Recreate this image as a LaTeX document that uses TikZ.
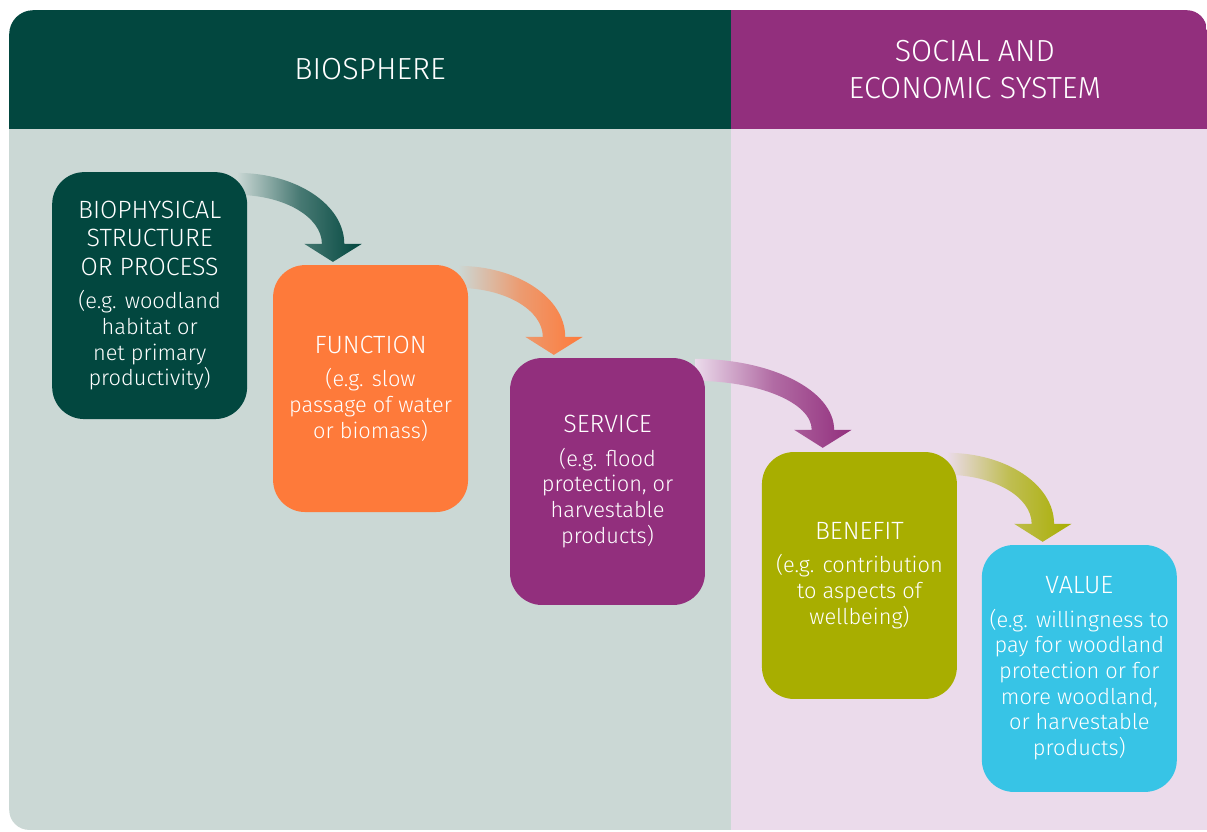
\documentclass[tikz,border=0pt]{standalone}
\usepackage{fontspec}
\setmainfont{Fira Sans}[UprightFont=* Light]
\usetikzlibrary{arrows.meta}
\definecolor{biogreen}{RGB}{2,71,63}
\definecolor{funorange}{RGB}{254,122,58}
\definecolor{serpurple}{RGB}{146,47,125}
\definecolor{benolive}{RGB}{168,174,0}
\definecolor{valcyan}{RGB}{55,196,230}
\definecolor{bgleft}{RGB}{203,216,213}
\definecolor{bgright}{RGB}{235,219,235}
\newcommand{\stagehead}{\fontsize{25}{28.5}\selectfont}
\newcommand{\stagebody}{\fontsize{21.8}{25.7}\selectfont}
\pgfdeclarelayer{panel}
\pgfdeclarelayer{flows}
\pgfsetlayers{panel,flows,main}

\begin{document}
\begin{tikzpicture}[scale=1.000000,x=1pt,y=1pt,
  header/.style={text=white,align=center,font=\fontsize{30.5}{37}\selectfont},
  stage/.style={rounded corners=32pt,minimum width=195pt,minimum height=247pt,inner sep=0pt,align=center,text=white,font=\stagebody},
  flow/.style 2 args={left color=#1,right color=#2,middle color=#2!65!#1}]
% Drawing panels
\begin{pgfonlayer}{panel}
\filldraw[color=white] (0.000000,0.000000) rectangle (1207.000000,831.000000);
\begin{scope}
\clip (9.000000,21.000000) -- (9.000000,797.000000) arc[start angle=180,end angle=90,radius=24] -- (1187.000000,821.000000) arc[start angle=90,end angle=0,radius=20] -- (1207.000000,1.000000) -- (29.000000,1.000000) arc[start angle=270,end angle=180,radius=20] -- cycle;
\fill[color=bgleft] (0.000000,0.000000) rectangle (731.000000,702.000000);
\fill[color=bgright] (731.000000,0.000000) rectangle (1207.000000,702.000000);
\fill[color=biogreen] (0.000000,702.000000) rectangle (731.000000,831.000000);
\fill[color=serpurple] (731.000000,702.000000) rectangle (1207.000000,831.000000);
\end{scope}
\end{pgfonlayer}
\node[header] (biosphere) at (370.000000,762.000000) {BIOSPHERE};
\node[header] (socioeco) at (975.000000,762.000000) {SOCIAL AND\\ECONOMIC SYSTEM};
% Done with panels; drawing stages
% Stage 1: biophysical structure or process
\node[stage,fill=biogreen] (biophys) at (149.500000,535.500000) {{\stagehead BIOPHYSICAL}\\[3pt]{\stagehead STRUCTURE}\\[3pt]{\stagehead OR PROCESS}\\[7.5pt](e.g. woodland\\habitat or\\net primary\\productivity)};
% Stage 2: function
\node[stage,fill=funorange] (function) at (370.500000,442.500000) {{\stagehead FUNCTION}\\[7.5pt](e.g. slow\\passage of water\\or biomass)};
% Stage 3: service
\node[stage,fill=serpurple] (service) at (607.500000,349.500000) {{\stagehead SERVICE}\\[7.5pt](e.g. flood\\protection, or\\harvestable\\products)};
% Stage 4: benefit
\node[stage,fill=benolive] (benefit) at (859.500000,255.500000) {{\stagehead BENEFIT}\\[7.5pt](e.g. contribution\\to aspects of\\wellbeing)};
% Stage 5: value
\node[stage,fill=valcyan] (value) at (1079.500000,162.500000) {{\stagehead VALUE}\\[7.5pt](e.g. willingness to\\pay for woodland\\protection or for\\more woodland,\\or harvestable\\products)};
% Done with stages; drawing arrows
\begin{pgfonlayer}{flows}
% Arrow 1: biophys -> function
\shade[flow={bgleft}{biogreen}] ([shift={(-10,-1)}]biophys.north east) arc[start angle=90,end angle=0,x radius=107,y radius=71] -- ++(17.5,0) -- ([shift={(60,3)}]function.north west) -- ++(-28.5,18) -- ++(17.5,0) arc[start angle=0,end angle=90,x radius=85,y radius=49] -- cycle;
% Arrow 2: function -> service
\shade[flow={bgleft}{funorange}] ([shift={(-10,-1)}]function.north east) arc[start angle=90,end angle=0,x radius=107,y radius=71] -- ++(17.5,0) -- ([shift={(44,3)}]service.north west) -- ++(-28.5,18) -- ++(17.5,0) arc[start angle=0,end angle=90,x radius=85,y radius=49] -- cycle;
% Arrow 3: service -> benefit
\shade[flow={bgright}{serpurple}] ([shift={(-10,-1)}]service.north east) arc[start angle=90,end angle=0,x radius=139,y radius=71] -- ++(17.5,0) -- ([shift={(61,4)}]benefit.north west) -- ++(-28.5,18) -- ++(17.5,0) arc[start angle=0,end angle=90,x radius=117,y radius=49] -- cycle;
% Arrow 4: benefit -> value
\shade[flow={bgright}{benolive}] ([shift={(-10,-1)}]benefit.north east) arc[start angle=90,end angle=0,x radius=107,y radius=71] -- ++(17.5,0) -- ([shift={(61,3)}]value.north west) -- ++(-28.5,18) -- ++(17.5,0) arc[start angle=0,end angle=90,x radius=85,y radius=49] -- cycle;
\end{pgfonlayer}
% Done with arrows
\end{tikzpicture}
\end{document}
